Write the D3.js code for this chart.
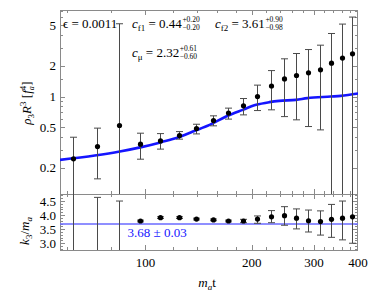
<!DOCTYPE html>
<html>
<head>
<meta charset="utf-8">
<script src="https://cdn.jsdelivr.net/npm/d3@7"></script>
<style>
  html, body { margin: 0; padding: 0; background: #fff; }
  svg text { font-family: "Liberation Serif", "Times New Roman", Times, serif; }
</style>
</head>
<body>
<svg id="chart" width="374" height="300"></svg>
<script>
// m_a t of each sample
const times = [62.2, 72.7, 84.2, 96.8, 109.7, 124.2, 139.4, 155.3, 171.1, 188.7, 206.7, 227, 246.5, 267.5, 289.3, 311.3, 335.2, 359.3, 384.4]

// top panel: rho_3 R^3 with error range
const rho   = [0.244, 0.322, 0.519, 0.34, 0.366, 0.413, 0.484, 0.581, 0.687, 0.81, 1.0, 1.27, 1.49, 1.61, 1.71, 1.83, 2.13, 2.39, 2.63]
const rhoHi = [0.398, 0.489, 5.2, 0.436, 0.432, 0.452, 0.534, 0.646, 0.769, 0.956, 1.295, 1.8, 2.35, 2.65, 2.9, 3.2, 4.17, 5.16, 6.05]
const rhoLo = [0.05, 0.155, 0.05, 0.242, 0.304, 0.381, 0.429, 0.515, 0.6, 0.66, 0.728, 0.74, 0.635, 0.59, 0.507, 0.47, 0.05, 0.05, 0.05]

// fitted curve (top panel)
const fitT = [57.3, 71.9, 84.6, 97.4, 111, 123.6, 136.3, 152, 169.2, 188.7, 205.9, 224.5, 239.5, 266.7, 287.5, 335, 357.6, 400]
const fitV = [0.238, 0.263, 0.288, 0.318, 0.356, 0.395, 0.453, 0.526, 0.636, 0.74, 0.829, 0.881, 0.907, 0.928, 0.964, 1.0, 1.016, 1.07]

// bottom panel: k_3 / m_a
const k3   = [2.0, 2.5, 2.6, 3.79, 3.91, 3.91, 3.86, 3.83, 3.79, 3.79, 3.86, 3.94, 3.98, 3.89, 3.80, 3.77, 3.85, 3.89, 3.94]
const k3Hi = [5.5, 4.63, 4.5, 3.82, 3.94, 3.94, 3.89, 3.86, 3.82, 3.85, 3.97, 4.16, 4.30, 4.22, 4.18, 4.15, 4.38, 4.50, 4.8]
const k3Lo = [0, 0, 0, 3.76, 3.88, 3.88, 3.83, 3.80, 3.76, 3.73, 3.71, 3.73, 3.64, 3.51, 3.40, 3.29, 3.21, 3.12, 3.0]
const k3Fit = 3.68

// ticks
const xMajor = [100, 200, 300, 400]
const xMinor = [60, 80, 120, 140, 160, 180, 220, 240, 260, 280, 320, 340, 360, 380]
const yTopMajor = [0.2, 0.5, 1, 2, 5]
const yTopMinor = [0.3, 0.4, 0.6, 0.7, 0.8, 0.9, 1.5, 3, 4, 6, 7]
const yBotMajor = [3.0, 3.5, 4.0, 4.5]
const yBotMinor = [2.8, 2.9, 3.1, 3.2, 3.3, 3.4, 3.6, 3.7, 3.8, 3.9, 4.1, 4.2, 4.3, 4.4, 4.6, 4.7]

const L = 60, R = 358, T = 10, MID = 194, B = 250
const FRAME = '#8a8a8a'
const BLUE = '#1515ff'

const svg = d3.select('#chart')
const x = d3.scaleLog().domain([57.3, 400]).range([L, R])
const yTop = d3.scaleLog().domain([0.11, 7.1]).range([MID, T])
const yBot = d3.scaleLinear().domain([2.76, 4.75]).range([B, MID])

const defs = svg.append('defs')
defs.append('clipPath').attr('id', 'clipTop').append('rect').attr('x', L).attr('y', T).attr('width', R - L).attr('height', MID - T)
defs.append('clipPath').attr('id', 'clipBot').append('rect').attr('x', L).attr('y', MID).attr('width', R - L).attr('height', B - MID)

function frameTicks(y0, y1, ys, yMaj, yMin) {
  const g = svg.append('g').attr('stroke', FRAME).attr('stroke-width', 1).attr('fill', 'none')
  xMajor.concat(xMinor).forEach(v => {
    const len = xMajor.includes(v) ? 5 : 3
    const px = Math.round(x(v)) + 0.5
    if (px > R) return
    g.append('line').attr('x1', px).attr('x2', px).attr('y1', y1).attr('y2', y1 - len)
    g.append('line').attr('x1', px).attr('x2', px).attr('y1', y0).attr('y2', y0 + len)
  })
  yMaj.concat(yMin).forEach(v => {
    const len = yMaj.includes(v) ? 5 : 3
    const py = Math.round(ys(v)) + 0.5
    if (py < y0 || py > y1) return
    g.append('line').attr('x1', L).attr('x2', L + len).attr('y1', py).attr('y2', py)
    g.append('line').attr('x1', R).attr('x2', R - len).attr('y1', py).attr('y2', py)
  })
  g.append('rect').attr('x', L + 0.5).attr('y', y0 + 0.5).attr('width', R - L - 1).attr('height', y1 - y0)
}

frameTicks(T, MID, yTop, yTopMajor, yTopMinor)
frameTicks(MID, B, yBot, yBotMajor, yBotMinor)

// tick labels
svg.append('g').selectAll('text').data(yTopMajor).join('text')
  .attr('x', 56).attr('y', d => yTop(d) + 4.5)
  .attr('text-anchor', 'end').attr('font-size', 13).text(d => d)
svg.append('g').selectAll('text').data(yBotMajor).join('text')
  .attr('x', 56).attr('y', d => yBot(d) + 4.5)
  .attr('text-anchor', 'end').attr('font-size', 13).text(d => d.toFixed(1))
svg.append('g').selectAll('text').data(xMajor).join('text')
  .attr('x', d => x(d)).attr('y', 266.5)
  .attr('text-anchor', 'middle').attr('font-size', 13).text(d => d)

// top panel data
const gTop = svg.append('g').attr('clip-path', 'url(#clipTop)')
gTop.append('path')
  .datum(fitT.map((t, i) => [t, fitV[i]]))
  .attr('d', d3.line().x(d => x(d[0])).y(d => yTop(d[1])).curve(d3.curveMonotoneX))
  .attr('fill', 'none').attr('stroke', BLUE).attr('stroke-width', 2.6)

function errorBars(g, ys, vals, lo, hi) {
  const eg = g.append('g').attr('stroke', '#4a4a4a').attr('stroke-width', 1)
  times.forEach((t, i) => {
    const px = Math.round(x(t)) + 0.5
    eg.append('line').attr('x1', px).attr('x2', px).attr('y1', ys(lo[i] > 0 ? lo[i] : 1e-9)).attr('y2', ys(hi[i]))
    eg.append('line').attr('x1', px - 3.5).attr('x2', px + 3.5).attr('y1', ys(hi[i])).attr('y2', ys(hi[i]))
    if (lo[i] > 0) eg.append('line').attr('x1', px - 3.5).attr('x2', px + 3.5).attr('y1', ys(lo[i])).attr('y2', ys(lo[i]))
  })
  g.append('g').selectAll('circle').data(vals).join('circle')
    .attr('cx', (d, i) => Math.round(x(times[i])) + 0.5).attr('cy', d => ys(d)).attr('r', 2.6).attr('fill', '#000')
}
errorBars(gTop, yTop, rho, rhoLo, rhoHi)

// bottom panel data
const gBot = svg.append('g').attr('clip-path', 'url(#clipBot)')
gBot.append('line')
  .attr('x1', L).attr('x2', R).attr('y1', yBot(k3Fit)).attr('y2', yBot(k3Fit))
  .attr('stroke', '#6a6aff').attr('stroke-width', 1.5)
errorBars(gBot, yBot, k3, k3Lo, k3Hi)

svg.append('text').attr('x', 127.5).attr('y', 236.5).attr('font-size', 13).attr('fill', BLUE).text('3.68 ± 0.03')

// annotations
svg.append('text').attr('x', 63).attr('y', 28).attr('font-size', 13).text('ϵ = 0.0011')

function fitLabel(px, py, sub, val, up, dn) {
  const t = svg.append('text').attr('x', px).attr('y', py).attr('font-size', 13)
  t.append('tspan').attr('font-style', 'italic').text('c')
  t.append('tspan').attr('font-size', 9).attr('dy', 3).text(sub)
  t.append('tspan').attr('dy', -3).text(' = ' + val)
  const w = t.node().getComputedTextLength()
  svg.append('text').attr('x', px + w + 0.5).attr('y', py - 6).attr('font-size', 7.5).text(up)
  svg.append('text').attr('x', px + w + 0.5).attr('y', py + 1.5).attr('font-size', 7.5).text(dn)
}
fitLabel(132, 28, 'f1', '0.44', '+0.20', '−0.20')
fitLabel(215, 28, 'f2', '3.61', '+0.90', '−0.98')
fitLabel(132, 57, 'μ', '2.32', '+0.61', '−0.60')

// axis labels
const yl = svg.append('text').attr('transform', 'translate(31,103) rotate(-90)')
  .attr('text-anchor', 'middle').attr('font-size', 13)
yl.append('tspan').attr('font-style', 'italic').text('ρ')
yl.append('tspan').attr('font-size', 9).attr('dy', 3).text('3')
yl.append('tspan').attr('font-style', 'italic').attr('dy', -3).text('R')
yl.append('tspan').attr('font-size', 9).attr('dy', -5).text('3')
yl.append('tspan').attr('dy', 5).text(' [')
yl.append('tspan').attr('font-style', 'italic').text('f')
yl.append('tspan').attr('font-size', 8).attr('dy', 3).attr('font-style', 'italic').text('a')
yl.append('tspan').attr('font-size', 9).attr('dx', -4).attr('dy', -8).text('4')
yl.append('tspan').attr('dy', 5).text(']')

const kl = svg.append('text').attr('transform', 'translate(29,231) rotate(-90)')
  .attr('text-anchor', 'middle').attr('font-size', 13)
kl.append('tspan').attr('font-style', 'italic').text('k')
kl.append('tspan').attr('font-size', 9).attr('dy', 3).text('3')
kl.append('tspan').attr('dy', -3).text('/')
kl.append('tspan').attr('font-style', 'italic').text('m')
kl.append('tspan').attr('font-size', 9).attr('font-style', 'italic').attr('dy', 3).text('a')

const xl = svg.append('text').attr('x', 207).attr('y', 287).attr('text-anchor', 'middle').attr('font-size', 13)
xl.append('tspan').attr('font-style', 'italic').text('m')
xl.append('tspan').attr('font-size', 9).attr('font-style', 'italic').attr('dy', 3).text('a')
xl.append('tspan').attr('dy', -3).text('t')
</script>
</body>
</html>
